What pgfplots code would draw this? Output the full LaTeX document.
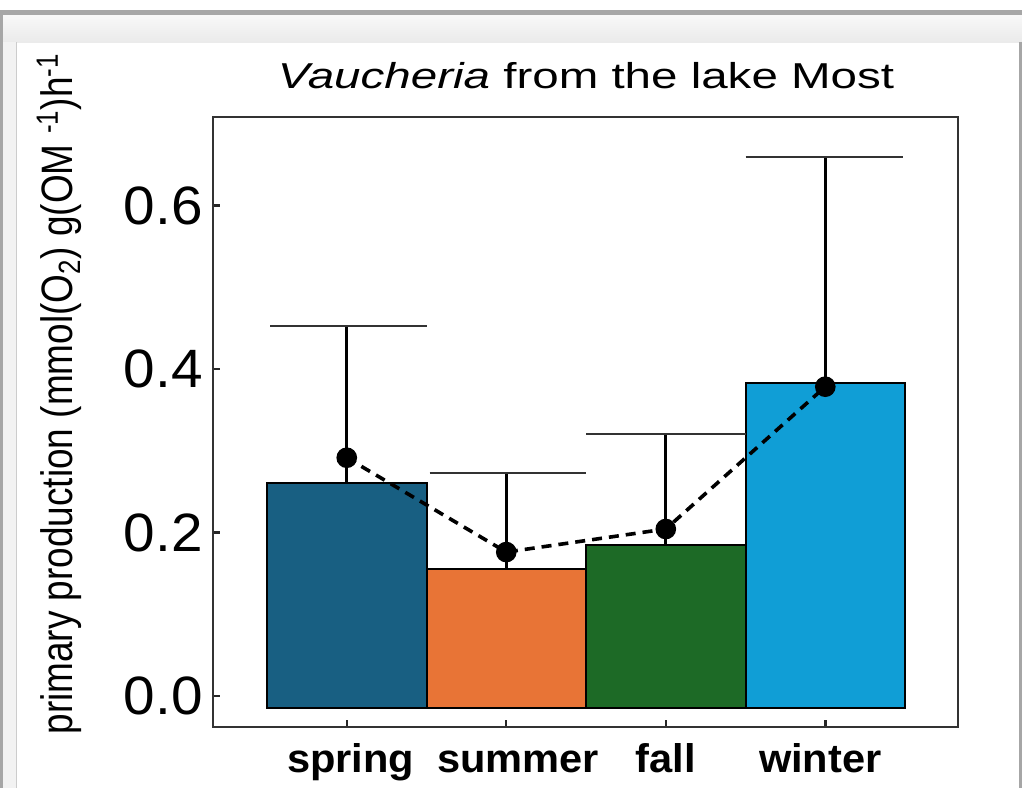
\documentclass[border=0pt]{standalone}
\usepackage{pgfplots}
\pgfplotsset{compat=1.18}
\usepackage{fontspec}
\setmainfont{Liberation Sans}
\definecolor{springc}{HTML}{185F82}
\definecolor{summerc}{HTML}{E87436}
\definecolor{fallc}{HTML}{1D6A26}
\definecolor{winterc}{HTML}{109ED6}
\definecolor{frameg}{HTML}{A6A6A6}
\newcommand{\xl}[2]{\hspace*{#1}\scalebox{1.04}[1]{#2}}
\begin{document}
\begin{tikzpicture}
\begin{scope}[x=0.5pt,y=-0.5pt]
\useasboundingbox (0,0) rectangle (1022,788);
\fill[white] (0,0) rectangle (1022,788);
\fill[frameg] (0,10) rectangle (1022,15);
\shade[top color=white!97!black, bottom color=white!92!black] (3,15) rectangle (1022,42);
\fill[frameg] (0,15) rectangle (3,788);
\fill[white!95!black] (3,42) rectangle (16,788);
\draw[white!80!black, line width=0.6pt] (16.5,42) -- (16.5,788);
\fill[frameg] (1019,42) rectangle (1022,788);
\end{scope}
\begin{axis}[
  at={(106.5pt,-363.5pt)}, anchor=south west,
  scale only axis, width=372.5pt, height=305pt,
  xmin=-0.8386, xmax=3.832, ymin=-0.0379, ymax=0.7083,
  axis line style={line width=1.1pt, black!80},
  tick align=inside, major tick length=3.5pt,
  tick style={line width=1.2pt, black!85},
  xtick pos=bottom, ytick pos=left,
  xtick={0,1,2,3},
  xticklabels={\xl{4pt}{spring},\xl{12pt}{summer},\xl{0pt}{fall},\xl{-5pt}{winter}},
  xticklabel style={anchor=base, yshift=-22.5pt, font=\fontsize{20}{22}\selectfont\bfseries},
  ytick={0,0.2,0.4,0.6},
  yticklabel style={anchor=east, inner sep=0pt, xshift=-5pt, font=\fontsize{27}{30}\selectfont,
    /pgf/number format/.cd, fixed, fixed zerofill, precision=1, assume math mode=true},
  yticklabel={\scalebox{1.05}[1]{\pgfmathprintnumber{\tick}}},
  title={\scalebox{1.32}[1]{\textit{Vaucheria} from the lake Most}},
  title style={at={(axis description cs:0.5007,1.027)}, anchor=base, inner sep=0pt, font=\fontsize{18}{20}\selectfont},
  ylabel={\scalebox{0.84}[1]{primary production (mmol(O\textsubscript{2}) g(OM \textsuperscript{-1})h\textsuperscript{-1}}},
  ylabel style={at={(axis description cs:-0.188,0.546)}, anchor=base, rotate=0, inner sep=0pt, font=\fontsize{22}{24}\selectfont},
]
% bars
\addplot[fill=springc, draw=black, line width=1pt, line join=miter] coordinates {(-0.5,-0.0147) (-0.5,0.261) (0.5,0.261) (0.5,-0.0147)} -- cycle;
\addplot[fill=summerc, draw=black, line width=1pt, line join=miter] coordinates {(0.5,-0.0147) (0.5,0.1553) (1.5,0.1553) (1.5,-0.0147)} -- cycle;
\addplot[fill=fallc, draw=black, line width=1pt, line join=miter] coordinates {(1.5,-0.0147) (1.5,0.1847) (2.5,0.1847) (2.5,-0.0147)} -- cycle;
\addplot[fill=winterc, draw=black, line width=1pt, line join=miter] coordinates {(2.5,-0.0147) (2.5,0.3825) (3.5,0.3825) (3.5,-0.0147)} -- cycle;
% error bars
\addplot[black, line width=1.6pt] coordinates {(0,0.261) (0,0.4526)};
\addplot[black, line width=1.6pt] coordinates {(1,0.1553) (1,0.2731)};
\addplot[black, line width=1.6pt] coordinates {(2,0.1847) (2,0.3205)};
\addplot[black, line width=1.6pt] coordinates {(3,0.3825) (3,0.6593)};
\addplot[black!80, line width=1.2pt] coordinates {(-0.48,0.4526) (0.5,0.4526)};
\addplot[black!80, line width=1.2pt] coordinates {(0.52,0.2731) (1.5,0.2731)};
\addplot[black!80, line width=1.2pt] coordinates {(1.5,0.3205) (2.5,0.3205)};
\addplot[black!80, line width=1.2pt] coordinates {(2.5,0.6593) (3.49,0.6593)};
% points with dashed line
\addplot[black, line width=1.8pt, dash pattern=on 5pt off 3.5pt, mark=*, mark size=4.25pt, mark options={solid, fill=black}]
  coordinates {(0,0.2915) (1,0.1761) (2,0.2043) (3,0.3784)};
\end{axis}
\end{tikzpicture}
\end{document}
